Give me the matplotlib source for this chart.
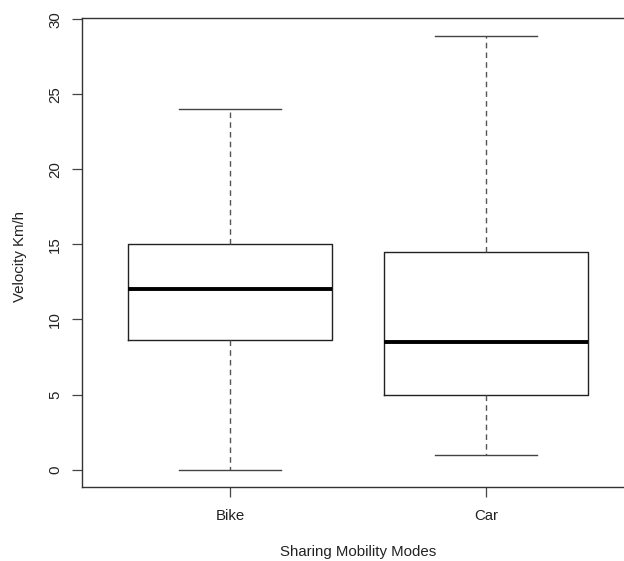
import matplotlib
matplotlib.use("Agg")
import matplotlib.pyplot as plt

plt.rcParams['font.family'] = ['Liberation Sans', 'DejaVu Sans']

# summary stats per mode (whisker low, Q1, median, Q3, whisker high)
modes = ['Bike', 'Car']
whislo = [0.0, 1.0]
q1 = [8.6, 5.0]
med = [12.0, 8.5]
q3 = [15.0, 14.5]
whishi = [24.0, 28.9]

yticks = [0, 5, 10, 15, 20, 25, 30]

stats = []
for i in range(len(modes)):
    stats.append({'label': modes[i], 'whislo': whislo[i], 'q1': q1[i],
                  'med': med[i], 'q3': q3[i], 'whishi': whishi[i], 'fliers': []})

fig = plt.figure(figsize=(6.24, 5.61), dpi=100)
# axes runs a bit past the right edge of the figure
ax = fig.add_axes([81.5 / 624, 74 / 561, 553 / 624, 468.7 / 561])

ax.bxp(stats, positions=[1, 2], widths=0.8, capwidths=0.4, showfliers=False,
       boxprops=dict(color='#222222', linewidth=1.0),
       medianprops=dict(color='black', linewidth=2.8, solid_capstyle='butt'),
       whiskerprops=dict(color='#555555', linewidth=1.0, linestyle=(0, (4, 3))),
       capprops=dict(color='#444444', linewidth=1.0))

ax.set_xlim(0.42, 2.58)
ax.set_ylim(-1.156, 30.056)
ax.set_yticks(yticks)
ax.set_yticklabels([str(t) for t in yticks], rotation=90, va='center')
ax.set_xticks([1, 2])
ax.set_xticklabels(modes)

for s in ax.spines.values():
    s.set_color('#333333')
    s.set_linewidth(1.0)

ax.tick_params(axis='both', direction='out', length=7, width=0.9,
               color='#444444', labelsize=10.8, labelcolor='#222222')
ax.tick_params(axis='y', pad=7)
ax.tick_params(axis='x', pad=9)

ax.set_xlabel('Sharing Mobility Modes', fontsize=10.8, color='#222222', labelpad=16)
fig.text(20 / 624, 1 - 256 / 561, 'Velocity Km/h', rotation=90, ha='center',
         va='center', fontsize=10.8, color='#222222')

fig.savefig('out.png', dpi=100)
